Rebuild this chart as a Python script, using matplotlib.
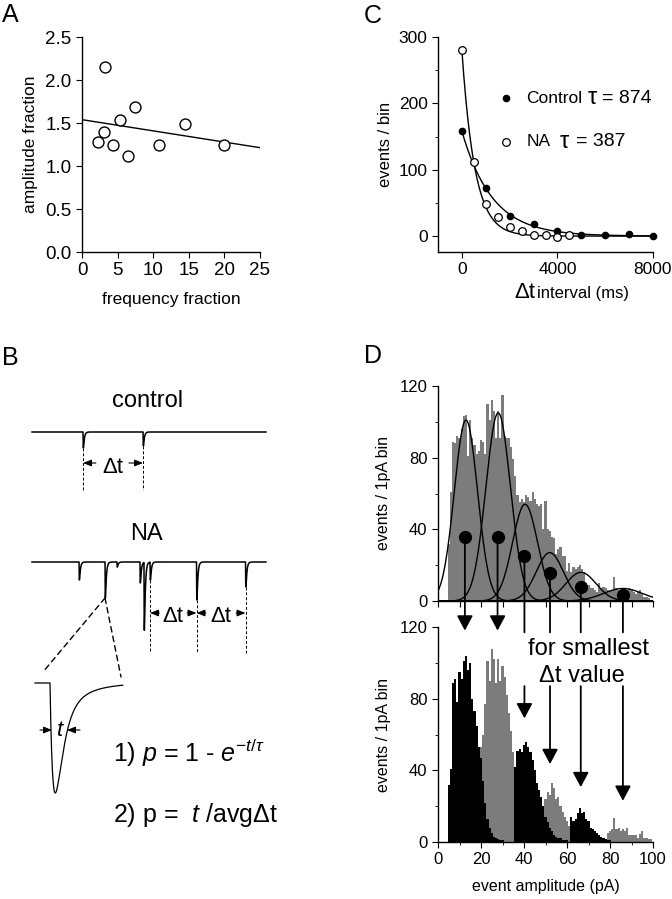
import numpy as np
import matplotlib.pyplot as plt
from matplotlib.patches import ConnectionPatch
from matplotlib.ticker import MultipleLocator

plt.rcParams['font.family'] = ['Liberation Sans', 'DejaVu Sans']
plt.rcParams['mathtext.fontset'] = 'custom'
plt.rcParams['mathtext.rm'] = 'Liberation Sans'
plt.rcParams['mathtext.it'] = 'Liberation Sans:italic'
plt.rcParams['axes.linewidth'] = 1.0
plt.rcParams['xtick.direction'] = 'out'
plt.rcParams['ytick.direction'] = 'out'
plt.rcParams['xtick.major.size'] = 4
plt.rcParams['ytick.major.size'] = 4
plt.rcParams['xtick.minor.size'] = 2.5
plt.rcParams['ytick.minor.size'] = 2.5
plt.rcParams['xtick.labelsize'] = 12
plt.rcParams['ytick.labelsize'] = 12

# panel A: amplitude vs frequency fraction
freq_frac = [2.24, 3.08, 3.27, 4.35, 5.37, 6.4, 7.38, 10.8, 14.5, 20.0]
amp_frac = [1.28, 1.39, 2.15, 1.24, 1.53, 1.12, 1.69, 1.24, 1.49, 1.25]

# panel C: interval histograms
ctrl_t = [0, 1000, 2000, 3000, 4000, 5000, 6000, 7000, 8000]
ctrl_n = [158, 73, 30, 18, 8, 1.5, 1, 2.5, 0]
na_t = [0, 500, 1000, 1500, 2000, 2500, 3000, 3500, 4000, 4500]
na_n = [281, 111, 49, 29, 13, 7.5, 2, 1.5, -1, 1]
ctrl_fit = (158, 1270)   # amplitude, decay (ms) of drawn fit
na_fit = (280, 540)

# panel B: schematic traces (event time ms, depth pA)
ctrl_ev_t = [436, 949]
ctrl_ev_a = [16, 14]
na_ev_t = [402, 624, 726, 923, 957, 1009, 1406, 1825]
na_ev_a = [18, 36, 5, 21, 68, 18, 38, 25]
na_marked = [1009, 1406, 1825]

# panel D top: amplitude histogram (1 pA bins from 5 pA) + gaussian fits
top_counts = [32, 61, 89, 88, 92, 91, 96, 103, 104, 81, 101, 91, 87, 82, 84, 90,
              89, 82, 110, 101, 112, 106, 91, 106, 91, 115, 92, 91, 91, 86, 79, 70,
              59, 55, 57, 55, 59, 58, 56, 61, 57, 54, 53, 54, 40, 56, 40, 39,
              36, 35, 26, 29, 30, 25, 25, 17, 21, 16, 19, 18, 19, 20, 18, 16,
              10, 9, 7, 7, 6, 5, 10, 7, 8, 7, 6, 5.5, 6, 13.5, 7, 6,
              7.5, 7, 7, 6, 7, 6, 5, 4, 5, 6, 4, 2.5, 2, 1.5]
gauss_mu = [13, 28, 40.5, 52, 66.5, 86]
gauss_amp = [101, 105, 54, 27, 16, 7]
gauss_sd = [5.4, 5.7, 5.8, 6.3, 7.0, 9.0]
stem_x = [12.5, 27.7, 40.2, 52.1, 66.4, 86]
stem_y = [36, 36, 25, 15.4, 7.6, 3.4]
arrow_tip = [118, 118, 69, 43.5, 30.6, 23]

# panel D bottom: histograms for smallest interval, (first bin, counts, colour)
groups = [
    (20, [53, 60, 77, 101, 90, 108, 102, 89, 102, 90, 98, 92, 82, 72, 62, 50,
          38, 20, 10, 5, 3, 2, 1], '#7c7c7c'),
    (49, [20, 24, 28, 26, 33, 30, 24, 25, 20, 17, 14, 12, 9, 8, 6, 5, 4, 3, 3,
          2, 2, 1], '#7c7c7c'),
    (79, [5, 6, 7, 13.5, 7, 7.6, 6, 7, 6, 7.6, 4, 4, 4, 4, 2.4, 4.3, 6, 2.4,
          2, 1.7, 1.7], '#7c7c7c'),
    (5, [32, 41, 89, 91, 78, 95, 91, 101, 104, 96, 100, 80, 73, 65, 53, 47, 34,
         22, 13, 8, 5, 3, 2, 1.5, 1, 1], 'black'),
    (36, [42, 51, 52, 50, 54, 56, 53, 50, 46, 40, 33, 29, 25, 20, 14, 11, 8, 6,
          4, 3, 2, 2, 1, 1, 1], 'black'),
    (62, [14, 11.5, 13, 16, 19, 16, 17, 13, 11.5, 8, 7, 6, 5, 4, 3, 2, 1.5, 1,
          1], 'black'),
]

W, H = 672, 899


def box(x0, y0, x1, y1):
    return [x0 / W, 1 - y1 / H, (x1 - x0) / W, (y1 - y0) / H]


def ftext(x, y, s, **kw):
    fig.text(x / W, 1 - y / H, s, **kw)


def clean(ax):
    ax.spines['top'].set_visible(False)
    ax.spines['right'].set_visible(False)


def event_trace(t, times, amps, rise, decay):
    s_peak = np.log(decay / rise) * rise * decay / (decay - rise)
    norm = np.exp(-s_peak / decay) - np.exp(-s_peak / rise)
    y = np.zeros_like(t)
    for t0, a in zip(times, amps):
        s = np.clip(t - t0, 0, None)
        k = np.where(t > t0, np.exp(-s / decay) - np.exp(-s / rise), 0)
        y -= a * k / norm
    return y


fig = plt.figure(figsize=(W / 100, H / 100), dpi=100)

# ---- A
axA = fig.add_axes(box(82, 37, 260, 252))
slope, icpt = np.polyfit(freq_frac, amp_frac, 1)
xl = np.array([0, 25])
axA.plot(xl, icpt + slope * xl, color='black', lw=1)
axA.scatter(freq_frac, amp_frac, s=62, facecolors='white', edgecolors='black',
            linewidths=1, zorder=3)
axA.set_xlim(0, 25)
axA.set_ylim(0, 2.5)
axA.set_xticks([0, 5, 10, 15, 20, 25])
axA.set_yticks([0, 0.5, 1.0, 1.5, 2.0, 2.5])
axA.set_yticklabels(['0.0', '0.5', '1.0', '1.5', '2.0', '2.5'])
axA.tick_params(labelsize=13.5)
axA.set_xlabel('frequency fraction', fontsize=12.5, labelpad=9)
axA.set_ylabel('amplitude fraction', fontsize=12.5, labelpad=5)
clean(axA)

# ---- C
axC = fig.add_axes(box(438, 37, 653, 252))
tt = np.linspace(0, 8000, 400)
axC.plot(tt, ctrl_fit[0] * np.exp(-tt / ctrl_fit[1]), color='black', lw=1)
axC.plot(tt, na_fit[0] * np.exp(-tt / na_fit[1]), color='black', lw=1)
axC.plot(ctrl_t, ctrl_n, 'o', ms=4.5, color='black', zorder=3, clip_on=False)
axC.plot(na_t, na_n, 'o', ms=5.5, mfc='white', mec='black', mew=0.9, zorder=3,
         clip_on=False)
axC.set_xlim(-1000, 8000)
axC.set_ylim(-24, 300)
axC.set_xticks([0, 4000, 8000])
axC.set_yticks([0, 100, 200, 300])
axC.yaxis.set_minor_locator(MultipleLocator(50))
axC.tick_params(labelsize=12.5)
axC.set_ylabel('events / bin', fontsize=12, labelpad=4)
clean(axC)
axC.plot([0.316], [0.716], 'o', ms=4.5, color='black', transform=axC.transAxes,
         clip_on=False)
axC.plot([0.316], [0.512], 'o', ms=5.5, mfc='white', mec='black', mew=0.9,
         transform=axC.transAxes, clip_on=False)
axC.text(0.412, 0.716, 'Control', transform=axC.transAxes, va='center', fontsize=12.5)
axC.text(0.695, 0.716, '\u03c4', transform=axC.transAxes, va='center', fontsize=17)
axC.text(0.765, 0.716, '= 874', transform=axC.transAxes, va='center', fontsize=14)
axC.text(0.412, 0.512, 'NA', transform=axC.transAxes, va='center', fontsize=12.5)
axC.text(0.565, 0.512, '\u03c4', transform=axC.transAxes, va='center', fontsize=17)
axC.text(0.64, 0.512, '= 387', transform=axC.transAxes, va='center', fontsize=14)
ftext(535, 298, '\u0394t', ha='right', va='baseline', fontsize=16)
ftext(537, 298, 'interval (ms)', ha='left', va='baseline', fontsize=12)

# ---- B traces
axT = fig.add_axes(box(25, 410, 275, 660))
axT.set_xlim(-60, 2077)
axT.set_ylim(-228, 22)
axT.axis('off')
tg = np.arange(0, 2000, 0.5)
axT.plot(tg, event_trace(tg, ctrl_ev_t, ctrl_ev_a, 1.5, 8), color='black', lw=1.1)
axT.plot(tg, event_trace(tg, na_ev_t, na_ev_a, 1.5, 8) - 130, color='black', lw=1.1)

dash = dict(color='black', lw=0.7, ls=(0, (3, 2)))
arr = dict(arrowstyle='-|>,head_length=0.5,head_width=0.2', color='black', lw=0.8,
           shrinkA=0, shrinkB=0)
for t0, a in zip(ctrl_ev_t, ctrl_ev_a):
    axT.plot([t0, t0], [-a, -58], **dash)
axT.annotate('', xy=(ctrl_ev_t[0], -31), xytext=(ctrl_ev_t[0] + 110, -31), arrowprops=arr)
axT.annotate('', xy=(ctrl_ev_t[1], -31), xytext=(ctrl_ev_t[1] - 120, -31), arrowprops=arr)
axT.text(np.mean(ctrl_ev_t), -41, '\u0394t', ha='center', va='baseline', fontsize=16)

for t0 in na_marked:
    a = na_ev_a[na_ev_t.index(t0)]
    axT.plot([t0, t0], [-130 - a, -221], **dash)
for t1, t2 in zip(na_marked[:-1], na_marked[1:]):
    axT.annotate('', xy=(t1, -181), xytext=(t1 + 80, -181), arrowprops=arr)
    axT.annotate('', xy=(t2, -181), xytext=(t2 - 80, -181), arrowprops=arr)
    axT.text((t1 + t2) / 2, -190, '\u0394t', ha='center', va='baseline', fontsize=16)

ftext(148, 407, 'control', ha='center', va='baseline', fontsize=17)
ftext(146, 540, 'NA', ha='center', va='baseline', fontsize=17)

# ---- B zoomed event
axI = fig.add_axes(box(30, 670, 130, 800))
axI.set_xlim(-20, 80)
axI.set_ylim(-117, 13)
axI.axis('off')
ti = np.arange(-15, 73, 0.2)
fast = event_trace(ti, [0], [1], 3.5, 7.0)
slow = event_trace(ti, [0], [1], 3.5, 24.0)
wave = 0.75 * fast + 0.25 * slow
axI.plot(ti, 110 * wave / np.abs(wave).max(), color='black', lw=0.9)
arr2 = dict(arrowstyle='-|>,head_length=0.5,head_width=0.2', color='black', lw=0.8,
            shrinkA=0, shrinkB=0)
axI.annotate('', xy=(2, -47), xytext=(-10, -47), arrowprops=arr2)
axI.annotate('', xy=(17, -47), xytext=(30, -47), arrowprops=arr2)
axI.text(10, -47, '$t$', ha='center', va='center', fontsize=16)

big = na_ev_t.index(624)
for xyB in [(-7, 11), (71, 6)]:
    con = ConnectionPatch(xyA=(624, -130 - na_ev_a[big]), coordsA=axT.transData,
                          xyB=xyB, coordsB=axI.transData, color='black', lw=1,
                          linestyle=(0, (4, 3)))
    fig.add_artist(con)

ftext(113, 762, r'1) $p$ = 1 - $e^{-t/\tau}$', va='baseline', fontsize=18)
ftext(113, 822, '2) p =  $t$ /avg\u0394t', va='baseline', fontsize=18)

# ---- D top
axDt = fig.add_axes(box(438, 386, 653, 601))
bins = np.arange(5, 5 + len(top_counts))
axDt.bar(bins, top_counts, width=1, color='#7c7c7c', linewidth=0)
xg = np.linspace(0, 100, 500)
for mu, amp, sd in zip(gauss_mu, gauss_amp, gauss_sd):
    axDt.plot(xg, amp * np.exp(-0.5 * ((xg - mu) / sd) ** 2), color='black', lw=1)
axDt.plot(stem_x, stem_y, 'o', ms=8.5, color='black', zorder=5)
axDt.set_xlim(0, 100)
axDt.set_ylim(0, 120)
axDt.xaxis.set_major_locator(MultipleLocator(10))
axDt.set_xticklabels([])
axDt.set_yticks([0, 40, 80, 120])
axDt.yaxis.set_minor_locator(MultipleLocator(20))
axDt.set_ylabel('events / 1pA bin', fontsize=11.5, labelpad=6)
clean(axDt)

# ---- D bottom
axDb = fig.add_axes(box(438, 627, 653, 842))
for start, counts, col in groups:
    b = np.arange(start, start + len(counts))
    axDb.bar(b, counts, width=1, color=col, linewidth=0,
             zorder=2 if col == 'black' else 1)
axDb.set_xlim(0, 100)
axDb.set_ylim(0, 120)
axDb.set_xticks([0, 20, 40, 60, 80, 100])
axDb.xaxis.set_minor_locator(MultipleLocator(10))
axDb.set_yticks([0, 40, 80, 120])
axDb.yaxis.set_minor_locator(MultipleLocator(20))
axDb.set_ylabel('events / 1pA bin', fontsize=11.5, labelpad=6)
axDb.set_xlabel('event amplitude (pA)', fontsize=11.5, labelpad=8)
clean(axDb)
axDb.text(69.8, 107.7, 'for smallest', ha='center', va='center', fontsize=17)
axDb.text(67, 92.6, '\u0394t value', ha='center', va='center', fontsize=17)

head = dict(arrowstyle='-|>,head_length=0.45,head_width=0.24', mutation_scale=20)
for x, y, tip in zip(stem_x, stem_y, arrow_tip):
    if tip > 100:
        con = ConnectionPatch(xyA=(x, y), coordsA=axDt.transData, xyB=(x, tip),
                              coordsB=axDb.transData, color='black', lw=1.3,
                              shrinkA=0, shrinkB=0, **head)
        fig.add_artist(con)
    else:
        con = ConnectionPatch(xyA=(x, y), coordsA=axDt.transData, xyB=(x, 117),
                              coordsB=axDb.transData, color='black', lw=1.3)
        fig.add_artist(con)
        axDb.annotate('', xy=(x, tip), xytext=(x, 87),
                      arrowprops=dict(color='black', lw=1.3, shrinkA=0, shrinkB=0,
                                      **head), annotation_clip=False)

# panel letters
ftext(2, 22, 'A', fontsize=18, va='baseline')
ftext(2, 365, 'B', fontsize=18, va='baseline')
ftext(364, 23, 'C', fontsize=18, va='baseline')
ftext(364, 363, 'D', fontsize=18, va='baseline')

fig.savefig('out.png', dpi=100)
